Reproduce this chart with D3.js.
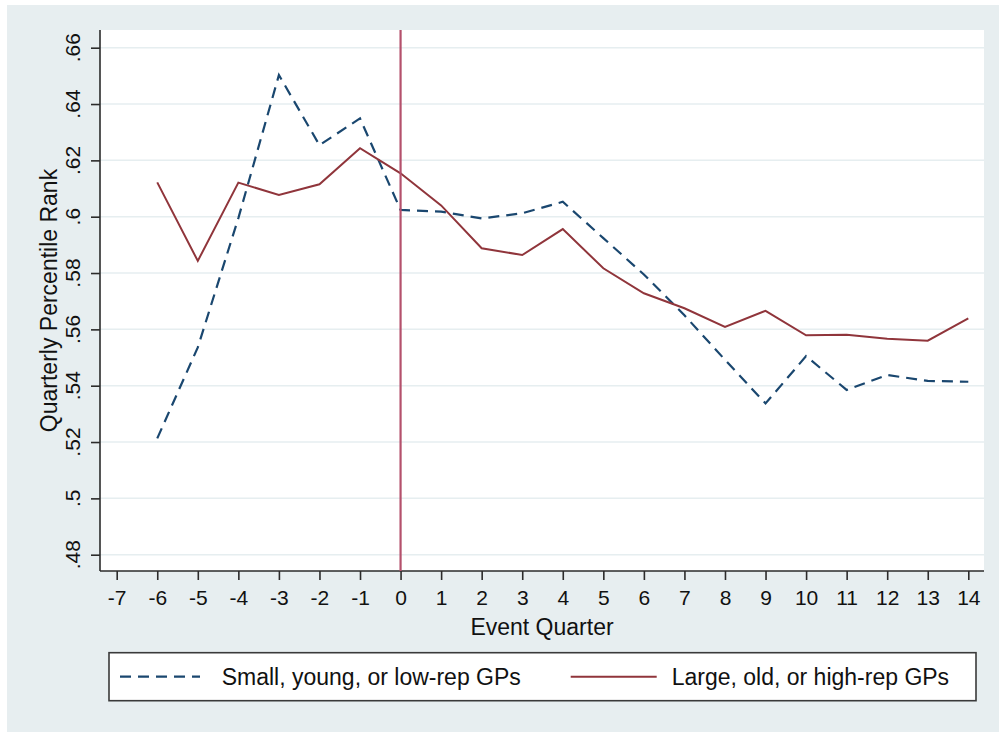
<!DOCTYPE html>
<html>
<head>
<meta charset="utf-8">
<script src="https://cdn.jsdelivr.net/npm/d3@7"></script>
<style>
  html, body { margin: 0; padding: 0; background: #fff; }
  svg { display: block; }
</style>
</head>
<body>
<div id="chart"></div>
<script>
const W = 999, H = 732;
const FONT = '"Liberation Sans", Arial, Helvetica, sans-serif';

// event quarters
const quarters = [-6, -5, -4, -3, -2, -1, 0, 1, 2, 3, 4, 5, 6, 7, 8, 9, 10, 11, 12, 13, 14];
// small, young, or low-rep GPs (dashed)
const smallGPs = [0.5213, 0.5536, 0.5995, 0.6503, 0.6254, 0.6349, 0.6024, 0.6018, 0.5994, 0.6012, 0.6053,
                  0.5924, 0.5795, 0.5650, 0.5492, 0.5337, 0.5505, 0.5385, 0.5438, 0.5417, 0.5414];
// large, old, or high-rep GPs (solid)
const largeGPs = [0.6122, 0.5843, 0.6121, 0.6077, 0.6115, 0.6243, 0.6154, 0.6040, 0.5888, 0.5864, 0.5956,
                  0.5817, 0.5728, 0.5675, 0.5609, 0.5666, 0.5579, 0.5581, 0.5567, 0.5560, 0.5639];

const xTicks = [-7, -6, -5, -4, -3, -2, -1, 0, 1, 2, 3, 4, 5, 6, 7, 8, 9, 10, 11, 12, 13, 14];
const yTicks = [0.48, 0.50, 0.52, 0.54, 0.56, 0.58, 0.60, 0.62, 0.64, 0.66];
const yTickLabels = ['.48', '.5', '.52', '.54', '.56', '.58', '.6', '.62', '.64', '.66'];
const eventLine = [0];

const seriesNames = ['Small, young, or low-rep GPs', 'Large, old, or high-rep GPs'];

const NAVY = '#1a476f';
const MAROON = '#90353b';
const XLINE = '#b4506c';
const AXIS = '#2b2b2b';
const GRID = '#e6eef0';

// plot region
const plot = { left: 100, right: 984, top: 30, bottom: 571 };

const x = d3.scaleLinear().domain([-7, 14]).range([116.7, 968.3]);
const y = d3.scaleLinear().domain([0.48, 0.66]).range([554.7, 47.7]);

const svg = d3.select('#chart').append('svg')
  .attr('width', W).attr('height', H)
  .attr('viewBox', `0 0 ${W} ${H}`);

// graph region background
svg.append('rect')
  .attr('x', 7).attr('y', 5)
  .attr('width', W - 7).attr('height', H - 5)
  .attr('fill', '#e7eef0');

// plot region
svg.append('rect')
  .attr('x', plot.left).attr('y', plot.top)
  .attr('width', plot.right - plot.left).attr('height', plot.bottom - plot.top)
  .attr('fill', '#fff');

// gridlines
svg.append('g')
  .selectAll('line')
  .data(yTicks)
  .join('line')
  .attr('x1', plot.left).attr('x2', plot.right)
  .attr('y1', d => y(d)).attr('y2', d => y(d))
  .attr('stroke', GRID)
  .attr('stroke-width', 1.5);

// y axis
const yAxis = svg.append('g')
  .attr('transform', `translate(${plot.left},0)`)
  .call(d3.axisLeft(y).tickValues(yTicks).tickSize(9).tickPadding(0).tickFormat(''));
yAxis.select('.domain').attr('d', `M0,${plot.top}V${plot.bottom}`);
yAxis.selectAll('path, line').attr('stroke', AXIS).attr('stroke-width', 1.6);

svg.append('g')
  .selectAll('text')
  .data(yTicks)
  .join('text')
  .attr('transform', d => `translate(80,${y(d)}) rotate(-90)`)
  .attr('text-anchor', 'middle')
  .attr('font-family', FONT)
  .attr('font-size', 21)
  .attr('fill', '#111')
  .text((d, i) => yTickLabels[i]);

// x axis
const xAxis = svg.append('g')
  .attr('transform', `translate(0,${plot.bottom})`)
  .call(d3.axisBottom(x).tickValues(xTicks).tickSize(9).tickPadding(8).tickFormat(d => d));
xAxis.select('.domain').attr('d', `M${plot.left},0H${plot.right}`);
xAxis.selectAll('path, line').attr('stroke', AXIS).attr('stroke-width', 1.6);
xAxis.selectAll('text')
  .attr('font-family', FONT)
  .attr('font-size', 21)
  .attr('fill', '#111')
  .attr('dy', null)
  .attr('y', 34);

// axis titles
svg.append('text')
  .attr('x', (plot.left + plot.right) / 2)
  .attr('y', 635)
  .attr('text-anchor', 'middle')
  .attr('font-family', FONT)
  .attr('font-size', 23)
  .attr('fill', '#111')
  .text('Event Quarter');

svg.append('text')
  .attr('transform', `translate(57,${(plot.top + plot.bottom) / 2}) rotate(-90)`)
  .attr('text-anchor', 'middle')
  .attr('font-family', FONT)
  .attr('font-size', 23)
  .attr('fill', '#111')
  .text('Quarterly Percentile Rank');

// series
const line = d3.line()
  .x((d, i) => x(quarters[i]))
  .y(d => y(d));

svg.append('path')
  .datum(smallGPs)
  .attr('d', line)
  .attr('fill', 'none')
  .attr('stroke', NAVY)
  .attr('stroke-width', 2.2)
  .attr('stroke-dasharray', '11,7');

svg.append('path')
  .datum(largeGPs)
  .attr('d', line)
  .attr('fill', 'none')
  .attr('stroke', MAROON)
  .attr('stroke-width', 2);

// event line at quarter 0
svg.append('g')
  .selectAll('line')
  .data(eventLine)
  .join('line')
  .attr('x1', d => x(d)).attr('x2', d => x(d))
  .attr('y1', plot.top).attr('y2', plot.bottom)
  .attr('stroke', XLINE)
  .attr('stroke-width', 2.2);

// legend
const legend = svg.append('g');
legend.append('rect')
  .attr('x', 109).attr('y', 652.7)
  .attr('width', 976 - 109).attr('height', 48)
  .attr('fill', '#fff')
  .attr('stroke', '#3a3a3a')
  .attr('stroke-width', 1.6);

const legendItems = [
  { name: seriesNames[0], color: NAVY, dash: '11,7', width: 2.2, x0: 120, x1: 200, tx: 221.7 },
  { name: seriesNames[1], color: MAROON, dash: null, width: 2, x0: 570.7, x1: 656.7, tx: 671.7 }
];

legendItems.forEach(it => {
  legend.append('line')
    .attr('x1', it.x0).attr('x2', it.x1)
    .attr('y1', 676.7).attr('y2', 676.7)
    .attr('stroke', it.color)
    .attr('stroke-width', it.width)
    .attr('stroke-dasharray', it.dash);
  legend.append('text')
    .attr('x', it.tx).attr('y', 685)
    .attr('font-family', FONT)
    .attr('font-size', 23)
    .attr('fill', '#111')
    .text(it.name);
});
</script>
</body>
</html>
